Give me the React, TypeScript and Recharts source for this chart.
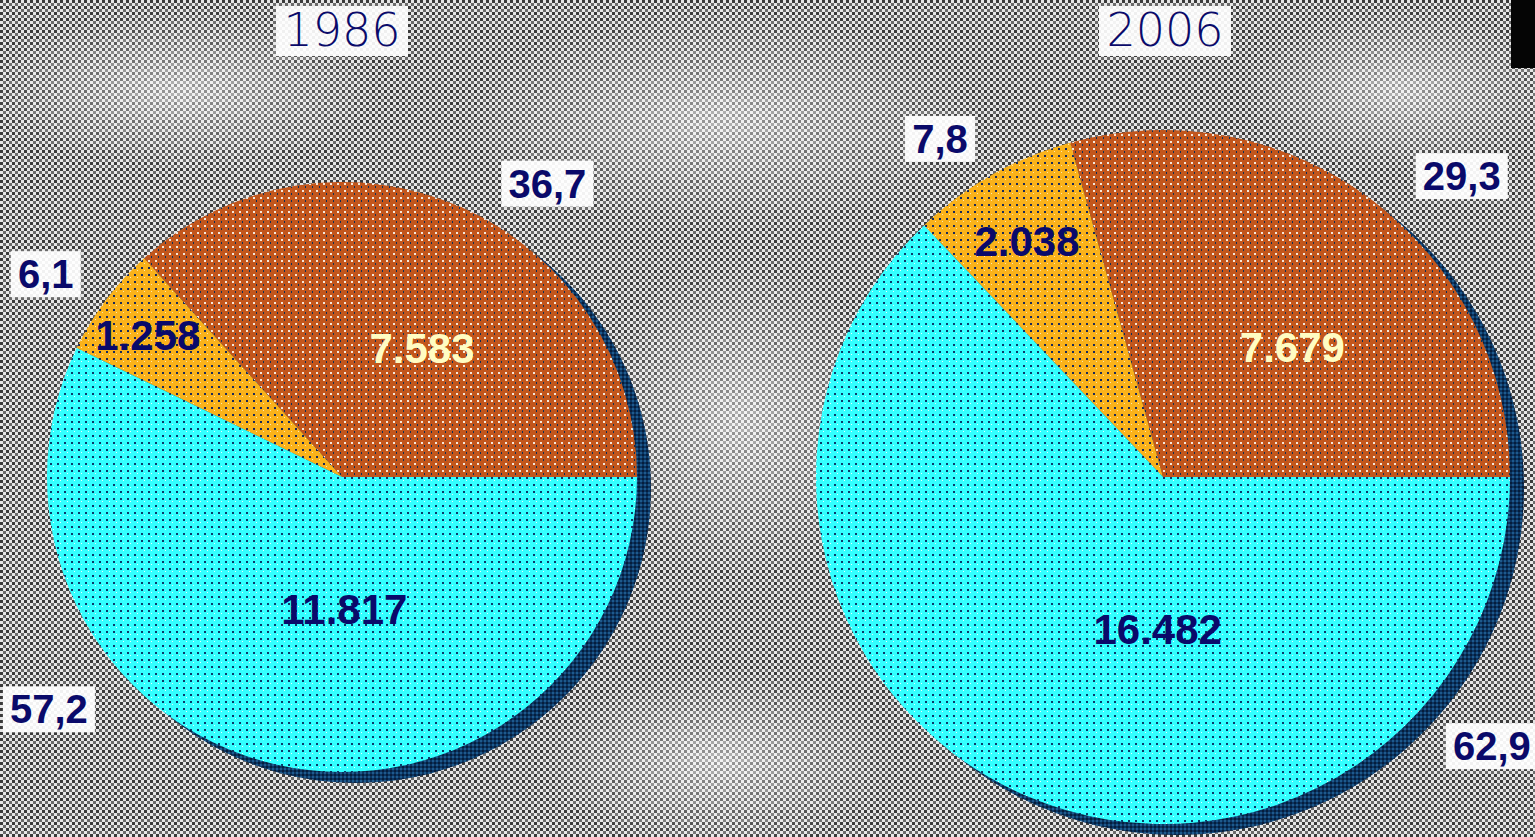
import { PieChart, Pie, Cell } from "recharts";

const W = 1535;
const H = 837;

// data
const years = ["1986", "2006"];
const categories = ["brown", "orange", "cyan"];
const values1986 = [7583, 1258, 11817];
const values2006 = [7679, 2038, 16482];

// layout: centre, radius, and where the labels sit (angle in degrees, distance from centre)
const pieGeom = [
  { cx: 342, cy: 477, r: 295 },
  { cx: 1163, cy: 477, r: 347 },
];
const valueLabelPos = [
  [[58, 151], [144, 240], [271, 133]],
  [[45, 183], [120, 272], [268, 153]],
];
const pctLabelPos = [
  [[55, 358], [145.6, 359], [218.4, 374]],
  [[45.2, 424], [123.4, 405], [320.7, 425]],
];

const fills = ["url(#pBrown)", "url(#pOrange)", "url(#pCyan)"];
const valueColors = ["#FFFCC2", "#0A0A6A", "#0A0A6A"];
const NAVY = "#0A0A6A";
const RAD = Math.PI / 180;

const fmtThousands = (v: number) => v.toLocaleString("de-DE");
const fmtPct = (v: number) => v.toFixed(1).replace(".", ",");

const toRows = (vals: number[]) => vals.map((v, i) => ({ name: categories[i], value: v }));

const makeLabel = (pieIdx: number, vals: number[]) => (props: any) => {
  const { index } = props;
  const { cx, cy } = pieGeom[pieIdx];
  const total = vals.reduce((a, b) => a + b, 0);
  const [va, vr] = valueLabelPos[pieIdx][index];
  const [pa, pr] = pctLabelPos[pieIdx][index];
  const vx = cx + vr * Math.cos(-va * RAD);
  const vy = cy + vr * Math.sin(-va * RAD);
  const px = cx + pr * Math.cos(-pa * RAD);
  const py = cy + pr * Math.sin(-pa * RAD);
  const pct = fmtPct((vals[index] / total) * 100);
  const boxW = pct.length * 22 + 4;
  return (
    <g>
      <text
        x={vx}
        y={vy}
        textAnchor="middle"
        dominantBaseline="central"
        fill={valueColors[index]}
        fontFamily="'Liberation Sans', Arial, sans-serif"
        fontWeight="bold"
        fontSize={42}
      >
        {fmtThousands(vals[index])}
      </text>
      <rect x={px - boxW / 2} y={py - 23} width={boxW} height={46} fill="#ffffff" fillOpacity={0.93} />
      <text
        x={px}
        y={py}
        textAnchor="middle"
        dominantBaseline="central"
        fill={NAVY}
        fontFamily="'Liberation Sans', Arial, sans-serif"
        fontWeight="bold"
        fontSize={40}
      >
        {pct}
      </text>
    </g>
  );
};

const App = () => {
  const all = [values1986, values2006];
  return (
    <div style={{ position: "absolute", left: 0, top: 0, width: W, height: H, overflow: "hidden" }}>
      <svg width={W} height={H} style={{ position: "absolute", left: 0, top: 0 }}>
        <defs>
          <pattern id="bgChk" width={6} height={6} patternUnits="userSpaceOnUse">
            <rect width={6} height={6} fill="#e6e6e6" />
            <rect x={0} y={0} width={3} height={3} fill="#3a3a3a" />
            <rect x={3} y={3} width={3} height={3} fill="#6a6a6a" />
          </pattern>
          <radialGradient id="haze" cx="50%" cy="50%" r="50%">
            <stop offset="0%" stopColor="#ffffff" stopOpacity={0.5} />
            <stop offset="100%" stopColor="#ffffff" stopOpacity={0} />
          </radialGradient>
        </defs>
        <rect width={W} height={H} fill="url(#bgChk)" />
        <ellipse cx={720} cy={120} rx={260} ry={110} fill="url(#haze)" />
        <ellipse cx={740} cy={420} rx={150} ry={160} fill="url(#haze)" />
        <ellipse cx={180} cy={90} rx={200} ry={80} fill="url(#haze)" />
        <ellipse cx={1400} cy={90} rx={160} ry={80} fill="url(#haze)" />
        <ellipse cx={720} cy={760} rx={180} ry={90} fill="url(#haze)" />
        <rect x={1511} y={0} width={24} height={68} fill="#050505" />
      </svg>
      <div style={{ position: "absolute", left: 0, top: 0 }}>
        <PieChart width={W} height={H} margin={{ top: 0, right: 0, bottom: 0, left: 0 }}>
          <defs>
            <pattern id="pBrown" width={7} height={7} patternUnits="userSpaceOnUse">
              <rect width={7} height={7} fill="#C2561C" />
              <rect x={1} y={1} width={2} height={2} fill="#f4e8dc" />
              <rect x={4} y={4} width={1} height={2} fill="#0B2F5A" />
            </pattern>
            <pattern id="pOrange" width={7} height={7} patternUnits="userSpaceOnUse">
              <rect width={7} height={7} fill="#FAB21A" />
              <rect x={1} y={1} width={2} height={2} fill="#1A2A5A" />
              <rect x={4} y={4} width={1} height={1} fill="#ffe9b0" />
            </pattern>
            <pattern id="pCyan" width={7} height={7} patternUnits="userSpaceOnUse">
              <rect width={7} height={7} fill="#33FFFF" />
              <rect x={1} y={1} width={2} height={2} fill="#0B3A6A" />
              <rect x={4} y={4} width={1} height={1} fill="#e8ffff" />
            </pattern>
            <pattern id="pShadow" width={4} height={4} patternUnits="userSpaceOnUse">
              <rect width={4} height={4} fill="#0B3562" />
              <rect x={0} y={0} width={2} height={2} fill="#1E5A8C" />
              <rect x={2} y={2} width={2} height={2} fill="#061E3C" />
            </pattern>
          </defs>
          {all.map((vals, p) => (
            <Pie
              key={`shadow-${years[p]}`}
              data={[{ name: "shadow", value: vals.reduce((a, b) => a + b, 0) }]}
              dataKey="value"
              cx={pieGeom[p].cx + 14}
              cy={pieGeom[p].cy + 11}
              outerRadius={pieGeom[p].r}
              stroke="none"
              fill="url(#pShadow)"
              isAnimationActive={false}
            />
          ))}
          {all.map((vals, p) => (
            <Pie
              key={`pie-${years[p]}`}
              data={toRows(vals)}
              dataKey="value"
              cx={pieGeom[p].cx}
              cy={pieGeom[p].cy}
              outerRadius={pieGeom[p].r}
              startAngle={0}
              endAngle={360}
              stroke="none"
              label={makeLabel(p, vals)}
              labelLine={false}
              isAnimationActive={false}
            >
              {vals.map((_, i) => (
                <Cell key={`c-${p}-${i}`} fill={fills[i]} />
              ))}
            </Pie>
          ))}
        </PieChart>
      </div>
      <svg width={W} height={H} style={{ position: "absolute", left: 0, top: 0, pointerEvents: "none" }}>
        {years.map((y, i) => (
          <g key={y}>
            <rect x={pieGeom[i].cx - 66 + (i === 0 ? 0 : 2)} y={6} width={132} height={50} fill="#ffffff" fillOpacity={0.92} />
            <text
              x={pieGeom[i].cx + (i === 0 ? 0 : 2)}
              y={46}
              textAnchor="middle"
              fill={NAVY}
              fontFamily="'DejaVu Sans', sans-serif"
              fontWeight={200}
              fontSize={46}
            >
              {y}
            </text>
          </g>
        ))}
      </svg>
    </div>
  );
};

export default App;
